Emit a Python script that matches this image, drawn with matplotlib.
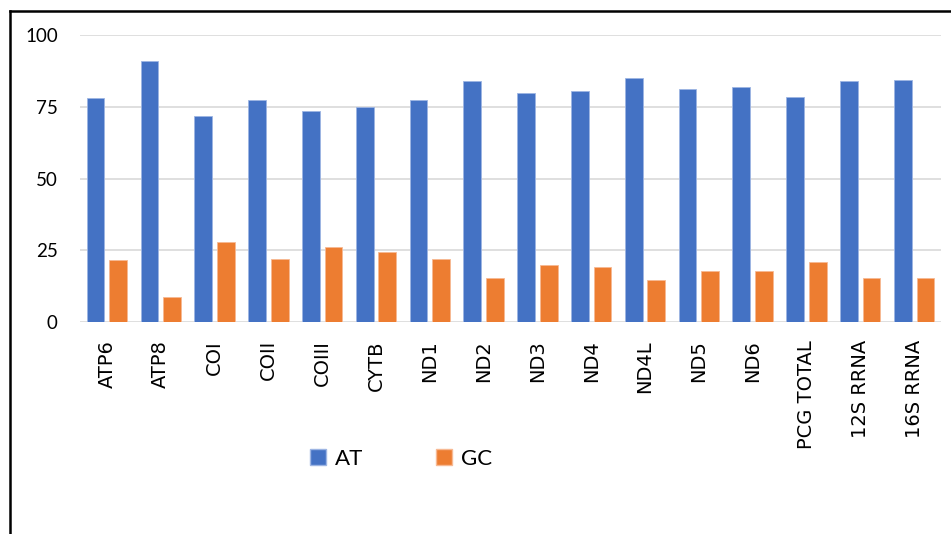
import matplotlib.pyplot as plt
import numpy as np
from matplotlib.lines import Line2D
from matplotlib.patches import Patch

genes = ["ATP6", "ATP8", "COI", "COII", "COIII", "CYTB", "ND1", "ND2", "ND3",
         "ND4", "ND4L", "ND5", "ND6", "PCG TOTAL", "12S RRNA", "16S RRNA"]
at_content = [78.2, 90.8, 71.7, 77.5, 73.5, 75.0, 77.5, 83.9, 79.7,
              80.4, 84.9, 81.3, 81.8, 78.5, 84.0, 84.2]
gc_content = [21.5, 8.8, 28.0, 22.1, 26.3, 24.4, 21.9, 15.5, 19.8,
              19.1, 14.6, 17.7, 17.9, 21.0, 15.2, 15.5]
yticks = [0, 25, 50, 75, 100]

blue = "#4472C4"
orange = "#ED7D31"

fig = plt.figure(figsize=(9.51, 5.34), dpi=100)
ax = fig.add_axes([80 / 951, 1 - 322 / 534, 861 / 951, 287 / 534])

x = np.arange(len(genes))
w = 0.33
ax.bar(x - 0.21, at_content, w, color=blue, edgecolor="#9db5e3", linewidth=0.6, zorder=3)
ax.bar(x + 0.21, gc_content, w, color=orange, edgecolor="#f7b993", linewidth=0.6, zorder=3)

ax.set_xlim(-0.5, len(genes) - 0.5)
ax.set_ylim(0, 100)
ax.set_yticks(yticks)
ax.set_yticklabels([str(v) for v in yticks], family=["Lato", "DejaVu Sans"], fontsize=13.5)
ax.set_xticks(x)
ax.set_xticklabels(genes, rotation=90, fontsize=14, va="top", ha="center")
ax.tick_params(axis="y", length=0, pad=16)
ax.tick_params(axis="x", length=0, pad=13)
ax.yaxis.grid(True, color="#d9d9d9", linewidth=1.2, zorder=0)
ax.set_axisbelow(True)
for s in ax.spines.values():
    s.set_visible(False)

handles = [Patch(facecolor=blue, edgecolor="#9db5e3", label="AT"),
           Patch(facecolor=orange, edgecolor="#f7b993", label="GC")]
fig.legend(handles=handles, loc="center", bbox_to_anchor=(401 / 951, 1 - 459 / 534),
           ncol=2, frameon=False, prop={"family": ["Lato", "DejaVu Sans"], "size": 16},
           handlelength=0.7, handleheight=0.7, handletextpad=0.4, columnspacing=3.3)

# outer frame (left and top edges)
fig.add_artist(Line2D([10 / 951, 10 / 951], [0, 1 - 11 / 534], color="black",
                      linewidth=1.8, transform=fig.transFigure))
fig.add_artist(Line2D([10 / 951, 1], [1 - 11 / 534, 1 - 11 / 534], color="black",
                      linewidth=1.8, transform=fig.transFigure))

fig.savefig("out.png", dpi=100)
